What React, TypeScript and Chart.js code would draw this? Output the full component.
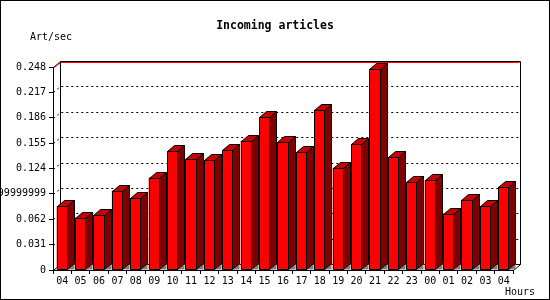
import React, { useEffect, useRef } from "react";
import { Chart, registerables } from "chart.js";

Chart.register(...registerables);

const hours = ["04", "05", "06", "07", "08", "09", "10", "11", "12", "13", "14", "15", "16", "17", "18", "19", "20", "21", "22", "23", "00", "01", "02", "03", "04"];
const articlesPerSec = [0.078, 0.064, 0.067, 0.097, 0.088, 0.113, 0.145, 0.136, 0.134, 0.146, 0.158, 0.187, 0.156, 0.144, 0.196, 0.125, 0.154, 0.246, 0.138, 0.107, 0.110, 0.069, 0.086, 0.078, 0.102];
const yTickValues = [0, 0.031, 0.062, 0.093, 0.124, 0.155, 0.186, 0.217, 0.248];
const yTickLabels = ["0", "0.031", "0.062", "0.0929999999999999", "0.124", "0.155", "0.186", "0.217", "0.248"];
const titleText = "Incoming articles";
const yAxisLabel = "Art/sec";
const xAxisLabel = "Hours";

const DX = 7;
const DY = 6;
const MONO = '"DejaVu Sans Mono", "Liberation Mono", monospace';
const FRONT = "#ff0000";
const TOP = "#c80000";
const SIDE = "#800000";
const SHADOW = "#808080";

function poly(ctx: CanvasRenderingContext2D, pts: number[][], fill: string, stroke: boolean) {
  ctx.beginPath();
  ctx.moveTo(pts[0][0], pts[0][1]);
  for (let i = 1; i < pts.length; i++) ctx.lineTo(pts[i][0], pts[i][1]);
  ctx.closePath();
  ctx.fillStyle = fill;
  ctx.fill();
  if (stroke) ctx.stroke();
}

const gd3dPlugin = {
  id: "gd3d",
  beforeDatasetsDraw(chart: any) {
    const { ctx, scales } = chart;
    const ys = scales.y;
    const xs = scales.x;
    const L = Math.round(xs.left) + 0.5;
    const R = Math.round(xs.right) + 0.5;
    const T = Math.round(ys.top) + 0.5;
    const B = Math.round(ys.bottom) + 0.5;
    const maxV = yTickValues[yTickValues.length - 1];
    ctx.save();
    ctx.lineWidth = 1;
    ctx.strokeStyle = "#000";
    ctx.setLineDash([2, 3]);
    yTickValues.forEach((v) => {
      if (v === 0 || v === maxV) return;
      const py = Math.round(ys.getPixelForValue(v)) + 0.5;
      ctx.beginPath();
      ctx.moveTo(L, py);
      ctx.lineTo(L + DX, py - DY);
      ctx.lineTo(R + DX, py - DY);
      ctx.stroke();
    });
    ctx.setLineDash([]);
    ctx.beginPath();
    ctx.moveTo(L + DX, B - DY);
    ctx.lineTo(L + DX, T - DY);
    ctx.lineTo(R + DX, T - DY);
    ctx.lineTo(R + DX, B - DY);
    ctx.lineTo(L + DX, B - DY);
    ctx.stroke();
    ctx.beginPath();
    ctx.moveTo(L, T);
    ctx.lineTo(L + DX, T - DY);
    ctx.moveTo(L, B);
    ctx.lineTo(L + DX, B - DY);
    ctx.moveTo(R, B);
    ctx.lineTo(R + DX, B - DY);
    ctx.stroke();
    ctx.strokeStyle = FRONT;
    ctx.beginPath();
    ctx.moveTo(L + 1, T);
    ctx.lineTo(L + DX, T - DY + 1);
    ctx.lineTo(R + DX - 1, T - DY + 1);
    ctx.stroke();
    ctx.restore();
  },
  afterDatasetsDraw(chart: any) {
    const { ctx } = chart;
    const meta = chart.getDatasetMeta(0);
    ctx.save();
    ctx.lineWidth = 1;
    ctx.strokeStyle = "#000";
    meta.data.forEach((bar: any) => {
      const p = bar.getProps(["x", "y", "base", "width"], true);
      const l = Math.round(p.x - p.width / 2) + 0.5;
      const r = Math.round(p.x + p.width / 2) - 0.5;
      const t = Math.round(p.y) + 0.5;
      const b = Math.round(p.base) - 0.5;
      poly(ctx, [[r, b], [r + DX, b - DY], [r + DX, b]], SHADOW, false);
      poly(ctx, [[r, t], [r + DX, t - DY], [r + DX, b - DY], [r, b]], SIDE, true);
      poly(ctx, [[l, t], [l + DX, t - DY], [r + DX, t - DY], [r, t]], TOP, true);
      ctx.beginPath();
      ctx.rect(l, t, r - l, b - t);
      ctx.stroke();
    });
    ctx.restore();
  },
  afterDraw(chart: any) {
    const { ctx, width, height } = chart;
    ctx.save();
    ctx.fillStyle = "#000";
    ctx.textBaseline = "middle";
    ctx.font = `bold 11.5px ${MONO}`;
    ctx.textAlign = "center";
    ctx.fillText(titleText, 275, 26.5);
    ctx.font = `10px ${MONO}`;
    ctx.textAlign = "left";
    ctx.fillText(yAxisLabel, 30, 37);
    ctx.textAlign = "right";
    ctx.fillText(xAxisLabel, 535, 292);
    ctx.strokeStyle = "#000";
    ctx.lineWidth = 1;
    ctx.strokeRect(0.5, 0.5, width - 1, height - 1);
    ctx.restore();
  },
};

export default function App() {
  const ref = useRef<HTMLCanvasElement | null>(null);
  useEffect(() => {
    if (!ref.current) return;
    const chart = new Chart(ref.current, {
      type: "bar",
      data: {
        labels: hours,
        datasets: [
          {
            data: articlesPerSec,
            backgroundColor: FRONT,
            borderColor: "#000",
            borderWidth: 0,
            barPercentage: 0.6,
            categoryPercentage: 1,
          },
        ],
      },
      options: {
        animation: false,
        responsive: false,
        devicePixelRatio: 1,
        layout: { padding: { top: 67, right: 37, left: 0, bottom: 0 } },
        plugins: { legend: { display: false }, tooltip: { enabled: false }, title: { display: false } },
        scales: {
          x: {
            type: "category",
            offset: true,
            grid: { offset: true, drawOnChartArea: false, drawTicks: true, tickLength: 4, color: "#000" },
            border: { display: true, color: "#000" },
            ticks: { color: "#000", font: { family: MONO, size: 10 }, padding: 1, autoSkip: false, maxRotation: 0, minRotation: 0 },
            afterFit: (s: any) => {
              s.height = 30;
            },
          },
          y: {
            type: "linear",
            min: 0,
            max: 0.248,
            grid: { drawOnChartArea: false, drawTicks: true, tickLength: 4, color: "#000" },
            border: { display: true, color: "#000" },
            afterBuildTicks: (s: any) => {
              s.ticks = yTickValues.map((v) => ({ value: v }));
            },
            ticks: {
              color: "#000",
              font: { family: MONO, size: 10 },
              padding: 3,
              callback: (_v: any, i: number) => yTickLabels[i],
            },
            afterFit: (s: any) => {
              s.width = 53;
            },
          },
        },
      },
      plugins: [gd3dPlugin],
    });
    return () => chart.destroy();
  }, []);
  return (
    <div style={{ position: "fixed", left: 0, top: 0, width: 550, height: 300, background: "#fff" }}>
      <canvas ref={ref} width={550} height={300} />
    </div>
  );
}
